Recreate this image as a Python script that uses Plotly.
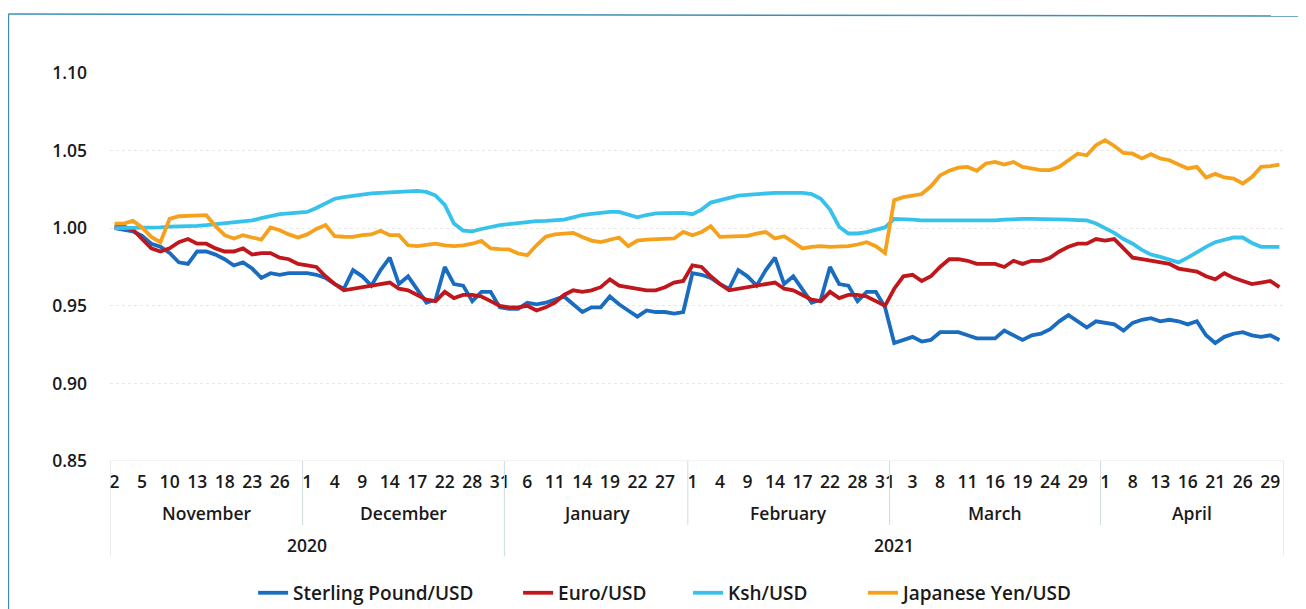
import plotly.graph_objects as go

# ---------------- data ----------------
nov_days = [2, 3, 4, 5, 6, 9, 10, 11, 12, 13, 16, 17, 18, 19, 20, 23, 24, 25, 26, 27, 30]
dec_days = [1, 2, 3, 4, 7, 8, 9, 10, 11, 14, 15, 16, 17, 18, 21, 22, 23, 24, 28, 29, 30, 31]
jan_days = [4, 5, 6, 7, 8, 11, 12, 13, 14, 15, 18, 19, 20, 21, 22, 25, 26, 27, 28, 29]
feb_days = [1, 2, 3, 4, 7, 8, 9, 10, 11, 14, 15, 16, 17, 18, 21, 22, 23, 24, 28, 29, 30, 31]
mar_days = [1, 2, 3, 4, 5, 8, 9, 10, 11, 12, 15, 16, 17, 18, 19, 22, 23, 24, 25, 26, 29, 30, 31]
apr_days = [1, 6, 7, 8, 9, 12, 13, 14, 15, 16, 19, 20, 21, 22, 23, 26, 27, 28, 29, 30]

month_names = ["November", "December", "January", "February", "March", "April"]
month_days = [nov_days, dec_days, jan_days, feb_days, mar_days, apr_days]
year_names = ["2020", "2021"]
months_per_year = [2, 4]

sterling = [
    1.000, 0.999, 0.998, 0.995, 0.990, 0.988, 0.984, 0.978, 0.977, 0.985, 0.985, 0.983, 0.980, 0.976, 0.978, 0.974, 0.968, 0.971, 0.970, 0.971, 0.971,
    0.971, 0.970, 0.968, 0.964, 0.961, 0.973, 0.969, 0.963, 0.973, 0.981, 0.964, 0.969, 0.960, 0.952, 0.954, 0.975, 0.964, 0.963, 0.953, 0.959, 0.959, 0.949,
    0.948, 0.948, 0.952, 0.951, 0.952, 0.954, 0.956, 0.951, 0.946, 0.949, 0.949, 0.956, 0.951, 0.947, 0.943, 0.947, 0.946, 0.946, 0.945, 0.946,
    0.971, 0.970, 0.968, 0.964, 0.961, 0.973, 0.969, 0.963, 0.973, 0.981, 0.964, 0.969, 0.960, 0.952, 0.954, 0.975, 0.964, 0.963, 0.953, 0.959, 0.959, 0.949,
    0.926, 0.928, 0.930, 0.927, 0.928, 0.933, 0.933, 0.933, 0.931, 0.929, 0.929, 0.929, 0.934, 0.931, 0.928, 0.931, 0.932, 0.935, 0.940, 0.944, 0.940, 0.936, 0.940,
    0.939, 0.938, 0.934, 0.939, 0.941, 0.942, 0.940, 0.941, 0.940, 0.938, 0.940, 0.931, 0.926, 0.930, 0.932, 0.933, 0.931, 0.930, 0.931, 0.928,
]
euro = [
    1.001, 1.001, 0.999, 0.993, 0.987, 0.985, 0.987, 0.991, 0.993, 0.990, 0.990, 0.987, 0.985, 0.985, 0.987, 0.983, 0.984, 0.984, 0.981, 0.980, 0.977,
    0.976, 0.975, 0.969, 0.964, 0.960, 0.961, 0.962, 0.963, 0.964, 0.965, 0.961, 0.960, 0.957, 0.954, 0.953, 0.959, 0.955, 0.957, 0.957, 0.956, 0.953, 0.950,
    0.949, 0.949, 0.950, 0.947, 0.949, 0.952, 0.957, 0.960, 0.959, 0.960, 0.962, 0.967, 0.963, 0.962, 0.961, 0.960, 0.960, 0.962, 0.965, 0.966,
    0.976, 0.975, 0.969, 0.964, 0.960, 0.961, 0.962, 0.963, 0.964, 0.965, 0.961, 0.960, 0.957, 0.954, 0.953, 0.959, 0.955, 0.957, 0.957, 0.956, 0.953, 0.950,
    0.961, 0.969, 0.970, 0.966, 0.969, 0.975, 0.980, 0.980, 0.979, 0.977, 0.977, 0.977, 0.975, 0.979, 0.977, 0.979, 0.979, 0.981, 0.985, 0.988, 0.990, 0.990, 0.993,
    0.992, 0.993, 0.987, 0.981, 0.980, 0.979, 0.978, 0.977, 0.974, 0.973, 0.972, 0.969, 0.967, 0.971, 0.968, 0.966, 0.964, 0.965, 0.966, 0.962,
]
ksh = [
    1.000, 1.000, 1.000, 1.000, 1.000, 1.0005, 1.001, 1.001, 1.001, 1.0015, 1.002, 1.0025, 1.003, 1.004, 1.0045, 1.005, 1.0065, 1.0077, 1.009, 1.0095, 1.010,
    1.0105, 1.013, 1.016, 1.019, 1.020, 1.021, 1.022, 1.0224, 1.0228, 1.023, 1.0234, 1.0238, 1.024, 1.0234, 1.021, 1.015, 1.003, 0.9985, 0.998, 0.9995, 1.001, 1.002,
    1.0026, 1.0033, 1.004, 1.0045, 1.0047, 1.005, 1.0055, 1.007, 1.0085, 1.0093, 1.010, 1.0105, 1.0105, 1.0085, 1.007, 1.0085, 1.0095, 1.0097, 1.0098, 1.0099,
    1.009, 1.012, 1.0165, 1.018, 1.0195, 1.021, 1.0215, 1.022, 1.0225, 1.0228, 1.0228, 1.0228, 1.0228, 1.022, 1.019, 1.012, 1.001, 0.9966, 0.9966, 0.9975, 0.9987, 1.0005,
    1.006, 1.006, 1.0055, 1.005, 1.005, 1.0048, 1.0047, 1.0047, 1.0047, 1.0047, 1.005, 1.005, 1.0055, 1.006, 1.006, 1.006, 1.006, 1.006, 1.0058, 1.0055, 1.0052, 1.005, 1.003,
    1.000, 0.997, 0.993, 0.990, 0.986, 0.983, 0.9815, 0.980, 0.978, 0.981, 0.9847, 0.988, 0.991, 0.9925, 0.994, 0.994, 0.9905, 0.988, 0.988, 0.988,
]
yen = [
    1.003, 1.003, 1.0047, 1.0005, 0.9944, 0.991, 1.006, 1.0077, 1.008, 1.0084, 1.0084, 1.0013, 0.9955, 0.9934, 0.9955, 0.994, 0.9927, 1.0005, 0.9987, 0.996, 0.994,
    0.996, 0.9995, 1.002, 0.9948, 0.9945, 0.9944, 0.9955, 0.996, 0.9983, 0.9955, 0.9955, 0.989, 0.9884, 0.989, 0.990, 0.989, 0.9884, 0.989, 0.990, 0.9918, 0.987, 0.9865,
    0.9863, 0.9837, 0.9826, 0.989, 0.9945, 0.996, 0.9965, 0.997, 0.9944, 0.992, 0.991, 0.9925, 0.994, 0.9884, 0.992, 0.9927, 0.993, 0.9934, 0.9934, 0.9976,
    0.9955, 0.9976, 1.0013, 0.9944, 0.9944, 0.9944, 0.995, 0.9965, 0.9976, 0.9934, 0.9948, 0.991, 0.987, 0.988, 0.9884, 0.988, 0.988, 0.9884, 0.9895, 0.991, 0.9884, 0.984,
    1.018, 1.020, 1.021, 1.022, 1.027, 1.034, 1.037, 1.039, 1.0395, 1.037, 1.0417, 1.0427, 1.041, 1.0427, 1.0395, 1.0385, 1.0374, 1.0374, 1.0395, 1.0438, 1.048, 1.047, 1.0535,
    1.0567, 1.053, 1.0485, 1.048, 1.045, 1.0477, 1.045, 1.0438, 1.041, 1.0385, 1.0395, 1.0327, 1.035, 1.0327, 1.032, 1.0288, 1.033, 1.0395, 1.040, 1.041,
]

series_names = ["Sterling Pound/USD", "Euro/USD", "Ksh/USD", "Japanese Yen/USD"]
series_values = [sterling, euro, ksh, yen]
series_colors = ["#1a6cc0", "#c0171c", "#36c2ea", "#f5a11c"]

y_ticks = [0.85, 0.90, 0.95, 1.00, 1.05, 1.10]

# ---------------- derived positions ----------------
days = [d for m in month_days for d in m]
n = len(days)
xs = list(range(n))

bounds = [-0.5]
for m in month_days:
    bounds.append(bounds[-1] + len(m))
year_bounds = [bounds[0]]
k = 0
for c in months_per_year:
    k += c
    year_bounds.append(bounds[k])

FONT = "Open Sans"
TXT = "#1a1a1a"
FS = 17.5

legend_ids = ["legend", "legend2", "legend3", "legend4"]
legend_x = [0.1219, 0.3476, 0.4924, 0.6414]

fig = go.Figure()
for name, vals, col, lid in zip(series_names, series_values, series_colors, legend_ids):
    fig.add_trace(go.Scatter(
        x=xs, y=vals, mode="lines", name=name, legend=lid,
        line=dict(color=col, width=3.8),
        hoverinfo="skip",
    ))

shapes = []
for b in bounds:
    is_year = b in year_bounds
    shapes.append(dict(type="line", xref="x", yref="paper", x0=b, x1=b,
                       y0=0, y1=-0.245 if is_year else -0.165,
                       line=dict(color="#cfdcdc", width=1)))
shapes.append(dict(type="line", xref="paper", yref="y", x0=0, x1=1, y0=0.85, y1=0.85,
                   line=dict(color="#e4e4e4", width=1)))
# scanned outer border (top and left edges)
shapes.append(dict(type="line", xref="paper", yref="paper", x0=-0.0865, x1=1.02,
                   y0=1.152, y1=1.147, line=dict(color="#3f8fb0", width=1.5)))
shapes.append(dict(type="line", xref="paper", yref="paper", x0=-0.0865, x1=-0.0865,
                   y0=1.152, y1=-0.40, line=dict(color="#3f8fb0", width=1.5)))

annotations = []
for i, mn in enumerate(month_names):
    annotations.append(dict(text=mn, xref="x", yref="paper",
                            x=(bounds[i] + bounds[i + 1]) / 2, y=-0.134,
                            showarrow=False, yanchor="middle",
                            font=dict(family=FONT, size=FS, color=TXT, weight=600)))
for i, yn in enumerate(year_names):
    annotations.append(dict(text=yn, xref="x", yref="paper",
                            x=(year_bounds[i] + year_bounds[i + 1]) / 2, y=-0.2165,
                            showarrow=False, yanchor="middle",
                            font=dict(family=FONT, size=FS, color=TXT, weight=600)))

layout_legends = {}
for lid, lx in zip(legend_ids, legend_x):
    layout_legends[lid] = dict(
        orientation="h", x=lx, xanchor="left", y=-0.34, yanchor="middle",
        font=dict(family=FONT, size=19, color=TXT, weight=600),
        bgcolor="rgba(0,0,0,0)", borderwidth=0,
    )

fig.update_layout(
    width=1298, height=601,
    margin=dict(l=102, r=22, t=65, b=148, autoexpand=False),
    paper_bgcolor="white", plot_bgcolor="white",
    showlegend=True,
    shapes=shapes,
    annotations=annotations,
    xaxis=dict(
        range=[-0.5, n - 0.5],
        tickmode="array",
        tickvals=xs[::3],
        ticktext=[str(d) for d in days[::3]],
        tickangle=0,
        showgrid=False, zeroline=False, showline=False,
        ticks="", automargin=False,
        ticklabelstandoff=8,
        tickfont=dict(family=FONT, size=FS, color=TXT, weight=600),
    ),
    yaxis=dict(
        range=[0.85, 1.10],
        tickmode="array",
        tickvals=y_ticks,
        ticktext=[f"{v:.2f}" for v in y_ticks],
        showgrid=True, gridcolor="#e8e8e8", griddash="dot", gridwidth=1,
        zeroline=False, showline=False, ticks="", automargin=False,
        ticklabelstandoff=22,
        tickfont=dict(family=FONT, size=FS, color=TXT, weight=600),
    ),
    **layout_legends,
)

fig.write_html("out.html")
